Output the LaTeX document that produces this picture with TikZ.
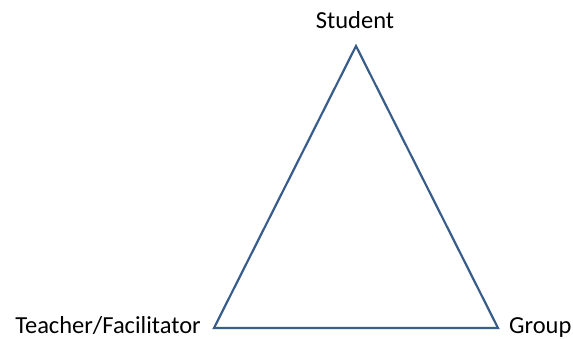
\documentclass[tikz,border=0pt]{standalone}
\usepackage{fontspec}
\setmainfont{Carlito}
\definecolor{tri}{HTML}{385D8A}
\begin{document}
\begin{tikzpicture}[x=1pt,y=-1pt,
  lbl/.style={font=\fontsize{24.5}{28}\selectfont, inner sep=0pt, text=black},
  edge/.style={draw=tri, line width=2.2pt, line join=miter}]
\useasboundingbox (0,0) rectangle (573,339);
\coordinate (s) at (356,46);
\coordinate (t) at (214,328);
\coordinate (g) at (498,328);
\draw[edge] (s) -- (t) -- (g) -- cycle;
\node[lbl, anchor=base] (ls) at (355,29) {Student};
\node[lbl, anchor=base east] (lt) at (201,333.3) {Teacher/Facilitator};
\node[lbl, anchor=base west] (lg) at (509,333.3) {Group};
\end{tikzpicture}
\end{document}
